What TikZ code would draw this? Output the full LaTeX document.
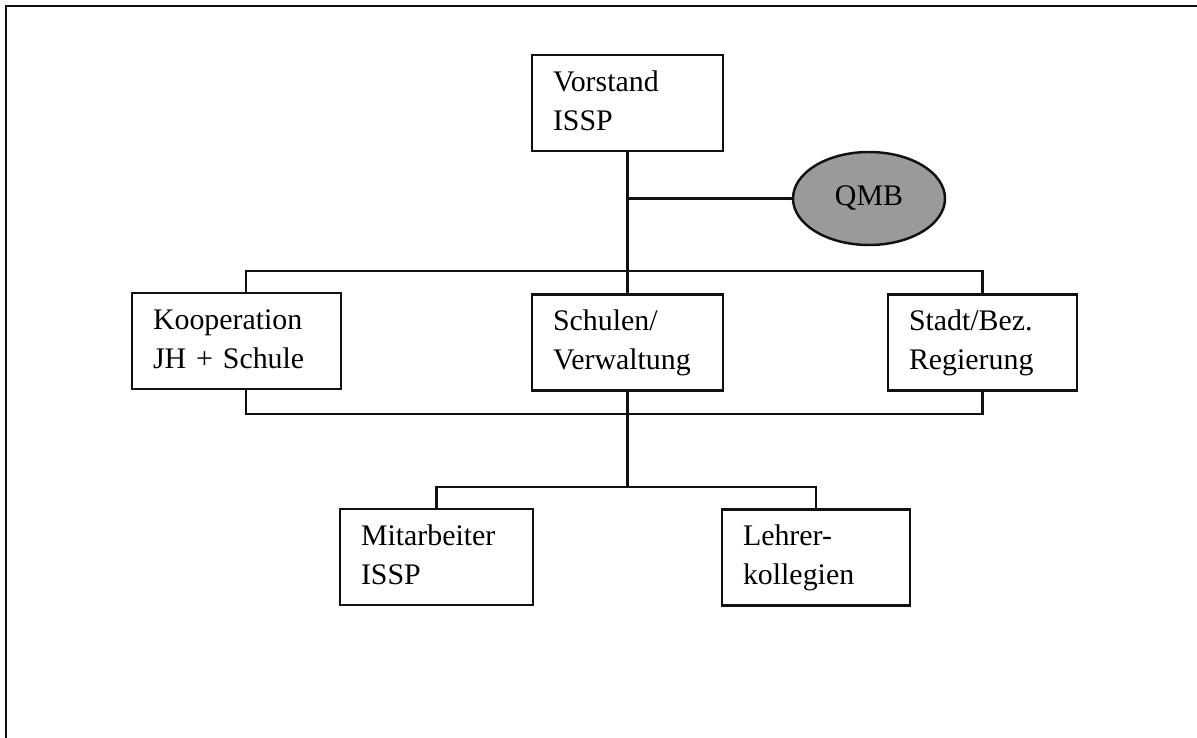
\documentclass[tikz,border=0pt]{standalone}
\usepackage{fontspec}
\setmainfont{Liberation Serif}
\usepackage{tikz}
\usetikzlibrary{positioning,shapes,calc}
\definecolor{orgBlack}{HTML}{111111}
\definecolor{qmbGray}{HTML}{9A9A9A}
\tikzset{
  orgbox/.style={draw=orgBlack, line width=1.4pt, inner xsep=0.42cm,
                 inner ysep=2pt, minimum height=1.92cm, align=left,
                 font=\fontsize{17}{22}\selectfont,
                 execute at begin node=\strut, execute at end node=\strut},
  qmbnode/.style={ellipse, draw=orgBlack, line width=1.4pt, fill=qmbGray,
                  minimum width=3.04cm, minimum height=1.86cm,
                  font=\fontsize{17}{22}\selectfont},
  orgline/.style={draw=orgBlack, line width=1.4pt},
  frameline/.style={draw=orgBlack, line width=1.6pt},
}
\begin{document}
\begin{tikzpicture}
\useasboundingbox (0,0) rectangle (23.94,-14.76);
%% Frame
\draw[frameline] (0.12,-14.76) |- (23.94,-0.12);
%% Nodes
\node[orgbox, text width=2.98cm] (vorstand) at (12.55,-2.06) {Vorstand\\ISSP};
\node[qmbnode] (qmb) at (17.38,-3.97) {QMB};
\node[orgbox, text width=3.34cm] (koop) at (4.73,-6.82) {Kooperation\\JH + Schule};
\node[orgbox, text width=2.98cm] (schulen) at (12.55,-6.85) {Schulen/\\Verwaltung};
\node[orgbox, text width=2.94cm] (stadt) at (19.65,-6.85) {Stadt/Bez.\\Regierung};
\node[orgbox, text width=3.02cm] (mitarb) at (8.73,-11.14) {Mitarbeiter\\ISSP};
\node[orgbox, text width=2.92cm] (lehrer) at (16.32,-11.15) {Lehrer-\\kollegien};
%% Bars
\coordinate (bartop) at (12.55,-5.42);
\coordinate (barbot) at (12.55,-8.28);
\coordinate (branch) at (12.55,-9.74);
%% Connectors
\draw[orgline] (vorstand.south) -- (schulen.north);
\draw[orgline] (vorstand.south |- qmb.west) -- (qmb.west);
\draw[orgline] ([xshift=0.19cm]koop.north) |- (bartop) -| (stadt.north);
\draw[orgline] ([xshift=0.19cm]koop.south) |- (barbot) -| (stadt.south);
\draw[orgline] (schulen.south) -- (branch);
\draw[orgline] (mitarb.north) |- (branch) -| (lehrer.north);
\end{tikzpicture}
\end{document}
